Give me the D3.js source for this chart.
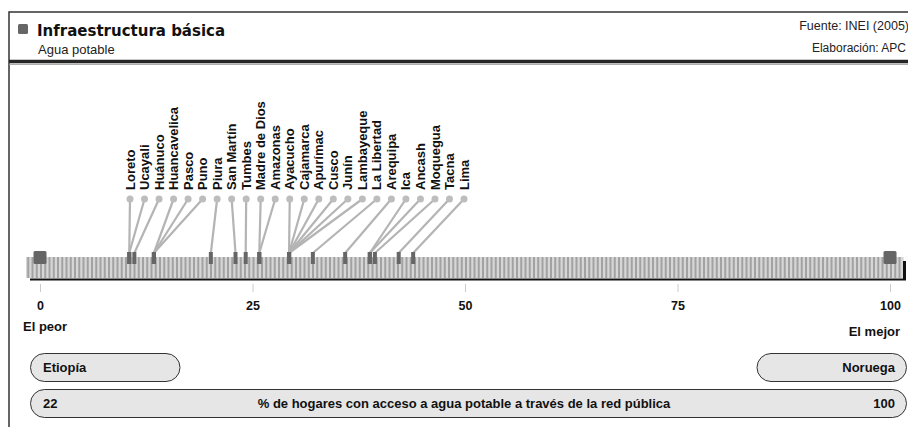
<!DOCTYPE html>
<html>
<head>
<meta charset="utf-8">
<script src="https://cdn.jsdelivr.net/npm/d3@7"></script>
<style>
  body { margin: 0; background: #fff; }
  svg { display: block; font-family: "Liberation Sans", Arial, sans-serif; }
</style>
</head>
<body>
<div id="chart"></div>
<script>
// data
const regions = ["Loreto", "Ucayali", "Huánuco", "Huancavelica", "Pasco", "Puno", "Piura",
  "San Martín", "Tumbes", "Madre de Dios", "Amazonas", "Ayacucho", "Cajamarca", "Apurímac",
  "Cusco", "Junín", "Lambayeque", "La Libertad", "Arequipa", "Ica", "Ancash", "Moquegua",
  "Tacna", "Lima"];
const values = [10.5, 10.5, 11.1, 13.4, 13.4, 13.4, 20.1, 23.0, 24.2, 25.8, 25.8, 29.3, 29.3,
  29.3, 29.3, 29.3, 29.3, 32.1, 35.9, 38.8, 38.8, 39.4, 42.2, 43.9];
const tickValues = [0, 25, 50, 75, 100];
const endLabels = ["El peor", "El mejor"];
const endCountries = ["Etiopía", "Noruega"];
const endValues = [22, 100];
const indicator = "% de hogares con acceso a agua potable a través de la red pública";

const width = 908, height = 427;

const svg = d3.select("#chart")
    .append("svg")
    .attr("width", width)
    .attr("height", height);

// frame
svg.append("path")
    .attr("d", `M9,${height} V12 H${width}`)
    .attr("fill", "none")
    .attr("stroke", "#333")
    .attr("stroke-width", 1.5);
svg.append("line")
    .attr("x1", 9).attr("x2", width).attr("y1", 61.5).attr("y2", 61.5)
    .attr("stroke", "#262626").attr("stroke-width", 3.5);
svg.append("line")
    .attr("x1", 9).attr("x2", width).attr("y1", 64.3).attr("y2", 64.3)
    .attr("stroke", "#999").attr("stroke-width", 1);

// header
svg.append("rect")
    .attr("x", 18).attr("y", 24).attr("width", 10).attr("height", 10)
    .attr("rx", 1.5).attr("fill", "#666");
svg.append("text")
    .attr("x", 37).attr("y", 36)
    .style("font-family", "'DejaVu Sans', sans-serif")
    .style("font-size", "15px").style("font-weight", "bold").attr("fill", "#111")
    .text("Infraestructura básica");
svg.append("text")
    .attr("x", 38).attr("y", 54)
    .style("font-size", "13px").attr("fill", "#222")
    .text("Agua potable");
svg.append("text")
    .attr("x", 909).attr("y", 30).attr("text-anchor", "end")
    .style("font-size", "12.5px").attr("fill", "#222")
    .text("Fuente: INEI (2005)");
svg.append("text")
    .attr("x", 906).attr("y", 52).attr("text-anchor", "end")
    .style("font-size", "12px").attr("fill", "#222")
    .text("Elaboración: APC");

// scales
const x = d3.scaleLinear().domain([0, 100]).range([40, 890]);
const lx = d3.scalePoint().domain(regions).range([130, 464]);

const bandTop = 257, bandBottom = 278;

// striped band
const band = svg.append("g");
band.append("rect")
    .attr("x", x(-1.65)).attr("y", bandTop)
    .attr("width", x(101.6) - x(-1.65)).attr("height", bandBottom - bandTop)
    .attr("fill", "#d6d6d6");
band.selectAll(".stripe")
    .data(d3.range(-1.5, 101.5, 0.5))
    .join("rect")
    .attr("class", "stripe")
    .attr("x", d => x(d))
    .attr("y", bandTop)
    .attr("width", 2)
    .attr("height", bandBottom - bandTop)
    .attr("fill", "#a2a2a2");

// baseline
svg.append("line")
    .attr("x1", 30).attr("x2", 906).attr("y1", 279.5).attr("y2", 279.5)
    .attr("stroke", "#111").attr("stroke-width", 2.2);
svg.append("rect")
    .attr("x", 903).attr("y", 261).attr("width", 3).attr("height", 19)
    .attr("fill", "#111");

// end squares
svg.selectAll(".endsq")
    .data([0, 100])
    .join("rect")
    .attr("class", "endsq")
    .attr("x", d => x(d) - 6.5)
    .attr("y", 251)
    .attr("width", 13).attr("height", 13)
    .attr("rx", 1.5)
    .attr("fill", "#666");

// leader lines, dots and labels
const data = regions.map((r, i) => ({ name: r, value: values[i] }));

svg.selectAll(".leader")
    .data(data)
    .join("line")
    .attr("class", "leader")
    .attr("x1", d => lx(d.name)).attr("y1", 199)
    .attr("x2", d => x(d.value)).attr("y2", 253)
    .attr("stroke", "#b4b4b4")
    .attr("stroke-width", 2.2);

svg.selectAll(".dot")
    .data(data)
    .join("circle")
    .attr("class", "dot")
    .attr("cx", d => lx(d.name)).attr("cy", 199)
    .attr("r", 3.5)
    .attr("fill", "#bdbdbd");

svg.selectAll(".marker")
    .data(data)
    .join("rect")
    .attr("class", "marker")
    .attr("x", d => x(d.value) - 2)
    .attr("y", 252)
    .attr("width", 4).attr("height", 12)
    .attr("fill", "#666");

svg.selectAll(".rlabel")
    .data(data)
    .join("text")
    .attr("class", "rlabel")
    .attr("transform", d => `translate(${lx(d.name)},190) rotate(-90)`)
    .attr("dy", "0.35em")
    .style("font-size", "13px").style("font-weight", "bold").attr("fill", "#111")
    .text(d => d.name);

// axis
const axis = svg.append("g")
    .attr("transform", "translate(0,284)")
    .call(d3.axisBottom(x).tickValues(tickValues).tickSize(8).tickPadding(9.5));
axis.select(".domain").remove();
axis.selectAll(".tick line").attr("stroke", "#ccc");
axis.selectAll(".tick text")
    .style("font-family", "'Liberation Sans', Arial, sans-serif")
    .style("font-size", "12.5px").style("font-weight", "bold").attr("fill", "#111");

svg.append("text")
    .attr("x", 23).attr("y", 331)
    .style("font-size", "13px").style("font-weight", "bold").attr("fill", "#111")
    .text(endLabels[0]);
svg.append("text")
    .attr("x", 900).attr("y", 336).attr("text-anchor", "end")
    .style("font-size", "13px").style("font-weight", "bold").attr("fill", "#111")
    .text(endLabels[1]);

// bottom pills
const pill = (x0, x1, y0, h) => svg.append("rect")
    .attr("x", x0).attr("y", y0).attr("width", x1 - x0).attr("height", h)
    .attr("rx", h / 2).attr("fill", "#e6e6e6")
    .attr("stroke", "#333").attr("stroke-width", 1);

pill(30.5, 180, 353.5, 28);
pill(757, 906.5, 353.5, 28);
pill(30.5, 906.5, 389.5, 28);

const boxText = (xp, yp, anchor, t) => svg.append("text")
    .attr("x", xp).attr("y", yp).attr("text-anchor", anchor)
    .style("font-size", "13px").style("font-weight", "bold").attr("fill", "#111")
    .text(t);

boxText(43, 372, "start", endCountries[0]);
boxText(895, 372, "end", endCountries[1]);
boxText(43, 408, "start", endValues[0]);
boxText(464, 408, "middle", indicator);
boxText(895, 408, "end", endValues[1]);
</script>
</body>
</html>
